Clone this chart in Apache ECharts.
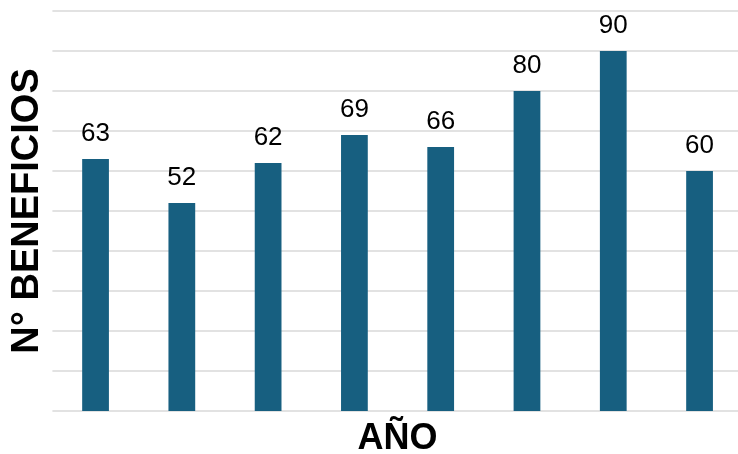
<!DOCTYPE html>
<html><head><meta charset="utf-8">
<script src="https://cdn.jsdelivr.net/npm/echarts@6/dist/echarts.min.js"></script>
<style>html,body{margin:0;padding:0;background:#fff}#c{width:738px;height:454px}</style>
</head><body><div id="c"></div>
<script>
const categories = ['1','2','3','4','5','6','7','8'];
const values = [63, 52, 62, 69, 66, 80, 90, 60];
const xTitle = 'AÑO';
const yTitle = 'N° BENEFICIOS';

const chart = echarts.init(document.getElementById('c'), null, {renderer:'canvas'});
chart.setOption({
  animation: false,
  grid: {left: 52.4, right: -4.7, top: 11, bottom: 43, containLabel: false, outerBoundsMode: 'none'},
  xAxis: {
    type: 'category', data: categories,
    axisLine: {show: false}, axisTick: {show: false}, axisLabel: {show: false},
    name: xTitle, nameLocation: 'middle', nameGap: 10,
    nameTextStyle: {fontFamily: 'Liberation Sans, Arial', fontWeight: 'bold', fontSize: 36, color: '#000'}
  },
  yAxis: {
    type: 'value', min: 0, max: 100, interval: 10,
    axisLine: {show: false}, axisTick: {show: false}, axisLabel: {show: false},
    splitLine: {lineStyle: {color: '#d9d9d9', width: 1.5}},
    name: yTitle, nameLocation: 'middle', nameRotate: 90, nameGap: 6,
    nameTextStyle: {fontFamily: 'Liberation Sans, Arial', fontWeight: 'bold', fontSize: 38, color: '#000'}
  },
  series: [{
    type: 'bar', data: values, barWidth: '31%',
    itemStyle: {color: '#175f80'},
    label: {show: true, position: 'top', distance: 12,
      fontFamily: 'Liberation Sans, Arial', fontSize: 26, color: '#000'}
  }]
});
</script></body></html>
